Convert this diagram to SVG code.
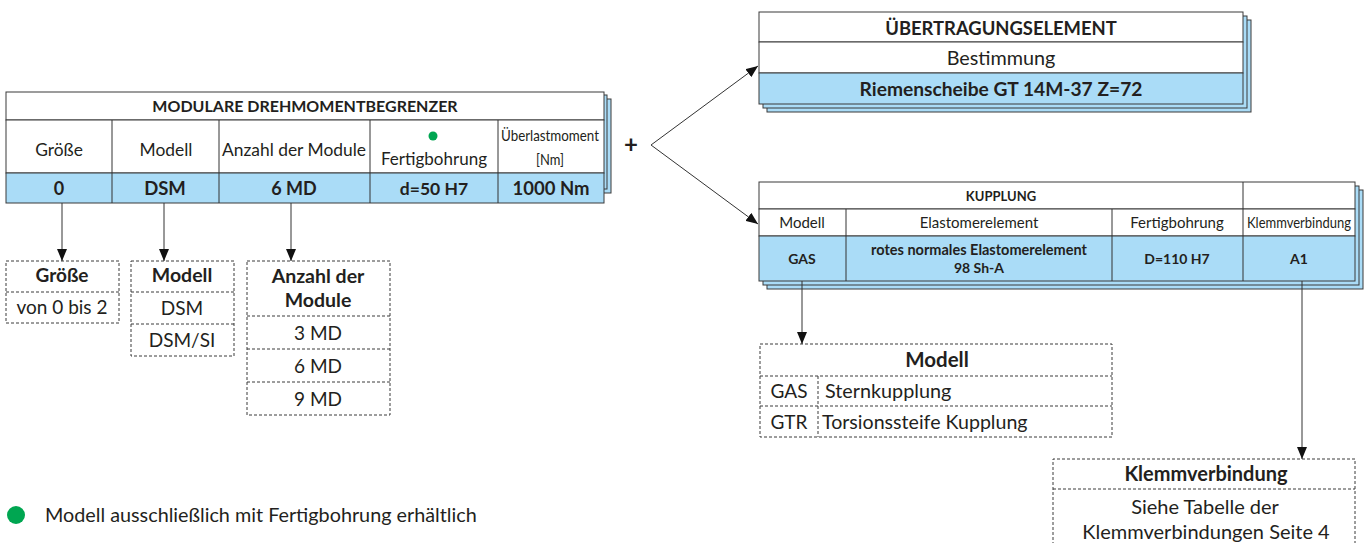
<svg xmlns="http://www.w3.org/2000/svg" width="1370" height="543" viewBox="0 0 1370 543">
<defs>
<style>
text{font-family:Lato,"Open Sans","Liberation Sans",sans-serif;fill:#231f20;}
.b{font-weight:bold;}
.c{text-anchor:middle;}
.cell{fill:#fff;stroke:#3a3a3a;stroke-width:1;}
.blue{fill:#aadcf7;stroke:#3a3a3a;stroke-width:1;}
.sh{fill:#aadcf7;stroke:#3a3a3a;stroke-width:1;}
.dash{fill:none;stroke:#3a3a3a;stroke-width:1;stroke-dasharray:3,2;}
.con{fill:none;stroke:#333;stroke-width:1;}
</style>
<marker id="ah" markerUnits="userSpaceOnUse" markerWidth="12" markerHeight="10" refX="12" refY="5" orient="auto">
<path d="M0,0 L12,5 L0,10 z" fill="#111"/>
</marker>
</defs>
<rect width="1370" height="543" fill="#fff"/>

<g id="node-drehmomentbegrenzer">
<rect class="sh" x="24" y="99" width="587" height="94"/>
<rect class="sh" x="20" y="95" width="587" height="94"/>
<rect class="cell" x="6" y="92" width="598" height="28"/>
<rect class="cell" x="6" y="120" width="598" height="53"/>
<rect class="blue" x="6" y="173" width="598" height="30"/>
<path class="con" d="M112,120V203M219,120V203M370,120V203M498,120V203"/>
<text class="b c" x="305" y="112" font-size="16">MODULARE DREHMOMENTBEGRENZER</text>
<text class="c" x="59" y="156" font-size="17.4">Größe</text>
<text class="c" x="166" y="156" font-size="17.4">Modell</text>
<text class="c" x="294" y="156" font-size="17.4">Anzahl der Module</text>
<circle cx="433" cy="136" r="4.5" fill="#00a651"/>
<text class="c" x="434" y="165" font-size="17">Fertigbohrung</text>
<text class="c" x="550" y="141" font-size="16" textLength="98" lengthAdjust="spacingAndGlyphs">Überlastmoment</text>
<text class="c" x="550" y="165" font-size="16" textLength="28" lengthAdjust="spacingAndGlyphs">[Nm]</text>
<text class="b c" x="59" y="195" font-size="18">0</text>
<text class="b c" x="165" y="195" font-size="18.5">DSM</text>
<text class="b c" x="294" y="195" font-size="18">6 MD</text>
<text class="b c" x="434" y="195" font-size="17.5">d=50 H7</text>
<text class="b c" x="551" y="195" font-size="18.5">1000 Nm</text>
</g>

<g id="node-groesse">
<rect class="dash" x="6" y="261" width="113" height="62"/>
<line class="dash" x1="6" y1="292" x2="119" y2="292"/>
<text class="b c" x="62" y="282" font-size="19">Größe</text>
<text class="c" x="62" y="314" font-size="19">von 0 bis 2</text>
</g>

<g id="node-modell">
<rect class="dash" x="131" y="261" width="103" height="95"/>
<line class="dash" x1="131" y1="292" x2="234" y2="292"/>
<line class="dash" x1="131" y1="324" x2="234" y2="324"/>
<text class="b c" x="182" y="282" font-size="19.5">Modell</text>
<text class="c" x="182" y="315" font-size="19">DSM</text>
<text class="c" x="182" y="347" font-size="19">DSM/SI</text>
</g>

<g id="node-anzahl">
<rect class="dash" x="247" y="261" width="143" height="154"/>
<line class="dash" x1="247" y1="316" x2="390" y2="316"/>
<line class="dash" x1="247" y1="349" x2="390" y2="349"/>
<line class="dash" x1="247" y1="382" x2="390" y2="382"/>
<text class="b c" x="318" y="283" font-size="19.5">Anzahl der</text>
<text class="b c" x="318" y="307" font-size="19.5">Module</text>
<text class="c" x="318" y="340" font-size="19">3 MD</text>
<text class="c" x="318" y="373" font-size="19">6 MD</text>
<text class="c" x="318" y="406" font-size="19">9 MD</text>
</g>

<g id="node-plus">
<text class="b c" x="631" y="153" font-size="24">+</text>
</g>

<g id="node-uebertragungselement">
<rect class="sh" x="767" y="20" width="484" height="92"/>
<rect class="sh" x="763" y="16" width="484" height="92"/>
<rect class="cell" x="759" y="12" width="484" height="30"/>
<rect class="cell" x="759" y="42" width="484" height="31"/>
<rect class="blue" x="759" y="73" width="484" height="31"/>
<text class="b c" x="1001" y="34.5" font-size="18.4">ÜBERTRAGUNGSELEMENT</text>
<text class="c" x="1001" y="65" font-size="19.8">Bestimmung</text>
<text class="b c" x="1001" y="96" font-size="19.2">Riemenscheibe GT 14M-37 Z=72</text>
</g>

<g id="node-kupplung">
<rect class="sh" x="767" y="190" width="596" height="99"/>
<rect class="sh" x="763" y="186" width="596" height="99"/>
<rect class="cell" x="759" y="182" width="596" height="27"/>
<rect class="cell" x="759" y="209" width="596" height="27"/>
<rect class="blue" x="759" y="236" width="596" height="45"/>
<path class="con" d="M1243,182V281M846,209V281M1112,209V281"/>
<text class="b c" x="1001" y="201" font-size="13">KUPPLUNG</text>
<text class="c" x="802" y="228" font-size="15">Modell</text>
<text class="c" x="979" y="228" font-size="15">Elastomerelement</text>
<text class="c" x="1177" y="228" font-size="15">Fertigbohrung</text>
<text class="c" x="1299" y="228" font-size="15" textLength="104" lengthAdjust="spacingAndGlyphs">Klemmverbindung</text>
<text class="b c" x="802" y="264" font-size="14">GAS</text>
<text class="b c" x="979" y="255" font-size="14.5">rotes normales Elastomerelement</text>
<text class="b c" x="979" y="273" font-size="14">98 Sh-A</text>
<text class="b c" x="1177" y="264" font-size="14">D=110 H7</text>
<text class="b c" x="1299" y="264" font-size="14">A1</text>
</g>

<g id="node-modell-kupplung">
<rect class="dash" x="760" y="344" width="352" height="93"/>
<line class="dash" x1="760" y1="376" x2="1112" y2="376"/>
<line class="dash" x1="760" y1="406" x2="1112" y2="406"/>
<line class="dash" x1="818" y1="376" x2="818" y2="437"/>
<text class="b c" x="937" y="367" font-size="20.5">Modell</text>
<text class="c" x="789" y="398" font-size="19">GAS</text>
<text x="825" y="398" font-size="19.8">Sternkupplung</text>
<text class="c" x="789" y="429" font-size="19">GTR</text>
<text x="822" y="429" font-size="19.6">Torsionssteife Kupplung</text>
</g>

<g id="node-klemmverbindung">
<path class="dash" d="M1053,545V459H1355V545"/>
<line class="dash" x1="1053" y1="489" x2="1355" y2="489"/>
<text class="b c" x="1206" y="481" font-size="20">Klemmverbindung</text>
<text class="c" x="1205" y="514" font-size="20">Siehe Tabelle der</text>
<text class="c" x="1206" y="539" font-size="20">Klemmverbindungen Seite 4</text>
</g>

<g id="node-legende">
<circle cx="16" cy="515" r="9" fill="#00a651"/>
<text x="45" y="522" font-size="19.8">Modell ausschließlich mit Fertigbohrung erhältlich</text>
</g>

<g id="connectors">
<line class="con" x1="62" y1="203" x2="62" y2="261" marker-end="url(#ah)"/>
<line class="con" x1="164" y1="203" x2="164" y2="261" marker-end="url(#ah)"/>
<line class="con" x1="291" y1="203" x2="291" y2="261" marker-end="url(#ah)"/>
<line class="con" x1="651" y1="145" x2="758" y2="66" marker-end="url(#ah)"/>
<line class="con" x1="651" y1="145" x2="758" y2="224" marker-end="url(#ah)"/>
<line class="con" x1="802" y1="281" x2="802" y2="344" marker-end="url(#ah)"/>
<line class="con" x1="1302" y1="281" x2="1302" y2="459" marker-end="url(#ah)"/>
</g>
</svg>
